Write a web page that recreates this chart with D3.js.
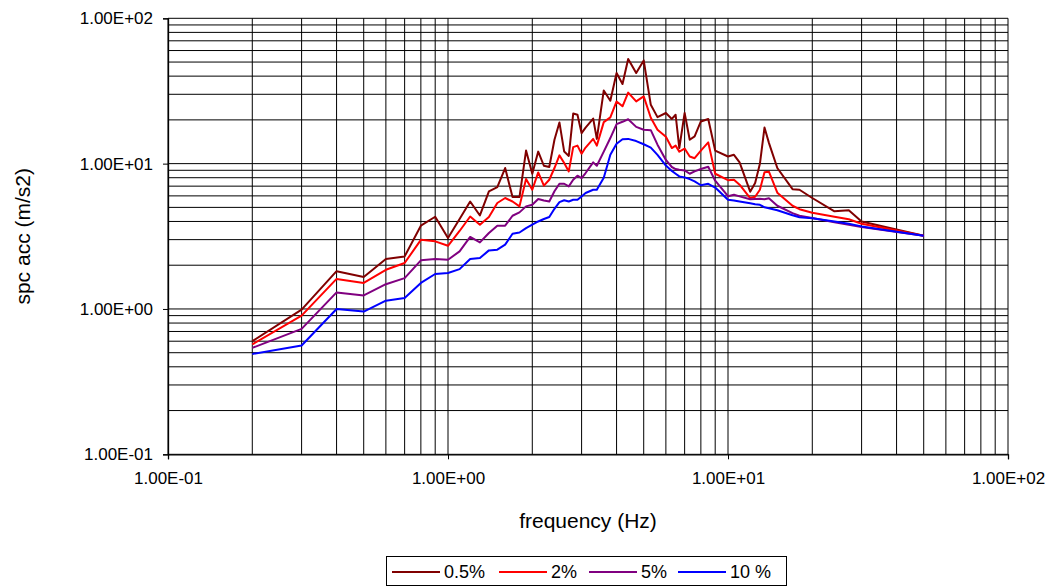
<!DOCTYPE html>
<html>
<head>
<meta charset="utf-8">
<script src="https://cdn.jsdelivr.net/npm/d3@7"></script>
<style>
  html, body { margin: 0; padding: 0; background: #fff; }
  svg { display: block; }
  text { font-family: "Liberation Sans", Arial, sans-serif; fill: #000; }
</style>
</head>
<body>
<svg id="chart" width="1053" height="587"></svg>
<script>
// ---- data ----
const freq = [0.2,0.3,0.4,0.5,0.6,0.7,0.8,0.9,1.0,
  1.1,1.2,1.3,1.4,1.5,1.6,1.7,1.8,1.9,2.0,2.1,2.2,2.3,2.4,2.5,2.6,2.7,2.8,2.9,3.0,3.1,
  3.3,3.4,3.6,3.8,4.0,4.2,4.4,4.7,5.0,
  5.3,5.6,6.0,6.3,6.5,6.7,7.0,7.3,7.6,8.0,8.5,9.0,
  10,10.5,11,12,12.5,13,13.5,14,15,17,18,20,24,27,30,50];

const acc05 = [0.60,0.99,1.82,1.66,2.21,2.30,3.74,4.31,3.08,
  4.16,5.49,4.40,6.44,6.90,9.33,5.89,5.89,12.3,8.52,12.1,9.67,9.48,14.6,19.2,12.1,11.3,22.1,21.7,16.2,17.7,
  20.4,14.8,31.9,27.1,42.0,35.3,52.5,42.0,51.3,
  25.4,20.9,22.3,20.3,21.7,12.8,22.3,14.6,15.4,19.5,20.3,12.3,
  11.2,11.5,10.2,6.41,7.35,9.98,17.7,13.9,9.33,6.67,6.61,5.80,4.70,4.78,4.00,3.19];

const acc2 = [0.57,0.90,1.61,1.51,1.86,2.07,2.99,2.92,2.72,
  3.44,4.33,3.80,4.29,5.36,5.80,5.49,5.08,7.83,6.61,8.70,7.05,7.75,9.33,11.4,10.1,8.84,13.0,13.3,11.7,12.9,
  14.8,13.3,19.3,20.8,26.8,24.8,30.8,26.8,29.0,
  20.7,17.1,15.3,12.8,13.3,12.1,12.7,11.2,10.9,12.3,14.0,8.52,
  7.69,7.75,7.16,5.80,5.92,6.61,8.73,8.80,6.31,5.13,4.86,4.59,4.31,4.14,3.86,3.19];

const acc5 = [0.54,0.73,1.30,1.24,1.48,1.63,2.16,2.21,2.18,
  2.49,3.13,2.87,3.33,3.74,3.74,4.38,4.62,5.08,5.21,5.71,5.58,5.49,6.46,7.27,7.27,6.97,7.75,8.26,7.96,8.62,
  10.2,9.67,12.1,15.0,18.7,19.4,20.2,17.9,17.1,
  17.0,13.5,10.6,9.48,9.18,9.08,8.98,8.52,8.84,9.18,9.52,7.63,
  5.97,6.11,5.95,5.69,5.71,5.73,5.69,5.78,5.13,4.57,4.38,4.22,3.95,3.80,3.66,3.19];

const acc10 = [0.49,0.56,1.00,0.96,1.14,1.19,1.51,1.74,1.77,
  1.88,2.21,2.24,2.53,2.56,2.77,3.29,3.36,3.60,3.80,4.00,4.16,4.29,4.89,5.43,5.60,5.49,5.64,5.64,5.95,6.28,
  6.61,6.61,8.00,11.5,13.7,14.7,14.8,14.3,13.6,
  12.9,11.5,9.70,8.91,8.52,8.17,8.04,7.83,7.54,7.10,7.27,6.85,
  5.64,5.58,5.49,5.34,5.26,5.21,5.01,4.93,4.78,4.41,4.28,4.21,4.00,3.86,3.70,3.19];

const seriesNames = ["0.5%", "2%", "5%", "10 %"];
const seriesColors = ["#800000", "#ff0000", "#800080", "#0000ff"];
const xTickValues = [0.1, 1, 10, 100];
const xTickLabels = ["1.00E-01", "1.00E+00", "1.00E+01", "1.00E+02"];
const yTickValues = [0.1, 1, 10, 100];
const yTickLabels = ["1.00E-01", "1.00E+00", "1.00E+01", "1.00E+02"];
const xTitle = "frequency (Hz)";
const yTitle = "spc acc (m/s2)";

// ---- layout ----
const L = 168, R = 1008, T = 18.3, B = 454.3;
const svg = d3.select("#chart");

const x = d3.scaleLog().domain([0.1, 100]).range([L, R]);
const y = d3.scaleLog().domain([0.1, 100]).range([B, T]);

svg.append("rect").attr("x", 0).attr("y", 0).attr("width", 1053).attr("height", 587).attr("fill", "#fff");

// gridlines (major + minor)
const g = svg.append("g");
g.selectAll("line.vx").data(x.ticks()).join("line")
  .attr("x1", d => x(d)).attr("x2", d => x(d))
  .attr("y1", T).attr("y2", B)
  .attr("stroke", "#000").attr("stroke-width", 1);
g.selectAll("line.hy").data(y.ticks()).join("line")
  .attr("x1", L).attr("x2", R)
  .attr("y1", d => y(d)).attr("y2", d => y(d))
  .attr("stroke", "#000").attr("stroke-width", 1);

// axes
const xAxis = d3.axisBottom(x).tickValues(xTickValues)
  .tickFormat((d, i) => xTickLabels[i]).tickSize(5);
const yAxis = d3.axisLeft(y).tickValues(yTickValues)
  .tickFormat((d, i) => yTickLabels[i]).tickSize(5).tickPadding(10);

const gx = svg.append("g").attr("transform", `translate(0,${B})`).call(xAxis);
const gy = svg.append("g").attr("transform", `translate(${L},0)`).call(yAxis);
[gx, gy].forEach(a => {
  a.select(".domain").attr("stroke", "#000").attr("stroke-width", 1.3);
  a.selectAll(".tick line").attr("stroke", "#000");
  a.selectAll("text").attr("font-size", 17).attr("font-family", '"Liberation Sans", Arial, sans-serif').attr("fill", "#000");
});
gx.selectAll("text").attr("y", 478 - B).attr("dy", "0.35em");

// titles
svg.append("text").attr("x", (L + R) / 2).attr("y", 520)
  .attr("text-anchor", "middle").attr("dominant-baseline", "central")
  .attr("font-size", 21).text(xTitle);
svg.append("text").attr("transform", `translate(22,${(T + B) / 2}) rotate(-90)`)
  .attr("text-anchor", "middle").attr("dominant-baseline", "central")
  .attr("font-size", 21).text(yTitle);

// series
const series = [acc05, acc2, acc5, acc10];
const line = d3.line().x((d, i) => x(freq[i])).y(d => y(d));
svg.append("g").selectAll("path").data(series).join("path")
  .attr("d", d => line(d))
  .attr("fill", "none")
  .attr("stroke", (d, i) => seriesColors[i])
  .attr("stroke-width", 2)
  .attr("stroke-linejoin", "round");

// legend
const legX = 386.5, legY = 556.5, legW = 400, legH = 29;
const leg = svg.append("g");
leg.append("rect").attr("x", legX).attr("y", legY).attr("width", legW).attr("height", legH)
  .attr("fill", "#fff").attr("stroke", "#000").attr("stroke-width", 1);
const itemStarts = [392, 499, 589, 678];
const items = leg.selectAll("g.item").data(seriesNames).join("g")
  .attr("transform", (d, i) => `translate(${itemStarts[i]},${legY + 15.5})`);
items.append("line").attr("x1", 0).attr("x2", 48).attr("y1", 0).attr("y2", 0)
  .attr("stroke", (d, i) => seriesColors[i]).attr("stroke-width", 2);
items.append("text").attr("x", 52).attr("y", 0).attr("dominant-baseline", "central")
  .attr("font-size", 18).text(d => d);
</script>
</body>
</html>
